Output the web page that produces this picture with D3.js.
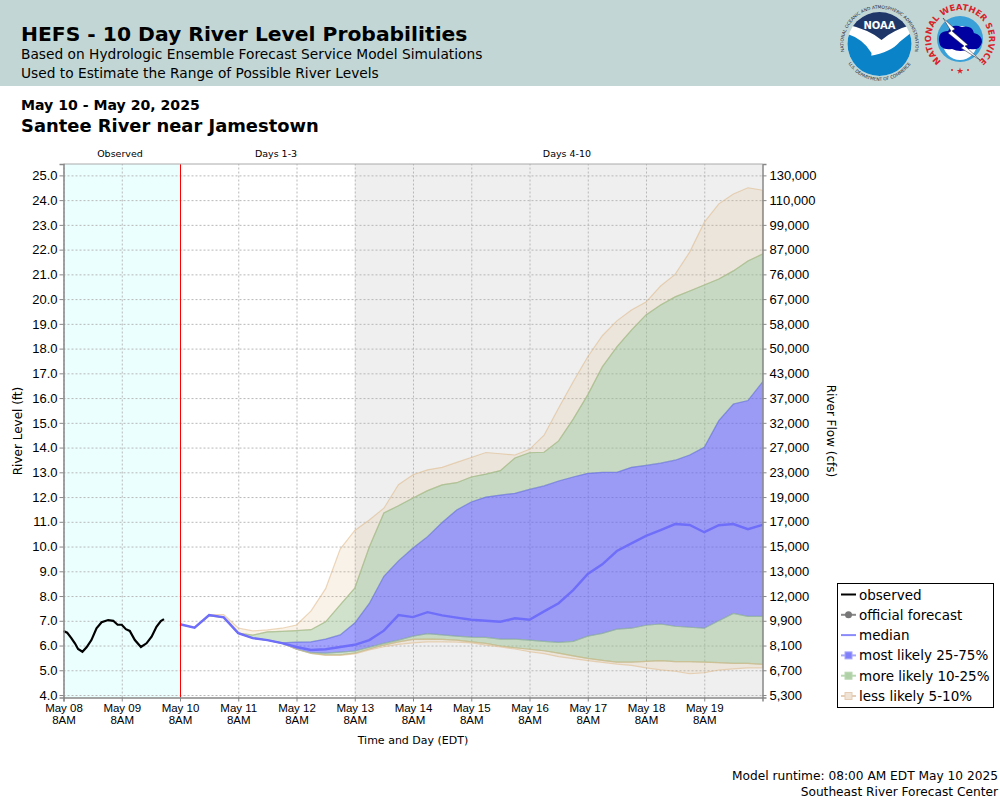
<!DOCTYPE html>
<html lang="en">
  <head>
    <meta charset="UTF-8" />
    <script src="https://d3js.org/d3.v7.min.js"></script>
    <style>
      body { margin: 0; background: #fff; }
      svg { display: block; font-family: "DejaVu Sans", sans-serif; }
      .tick text { fill: #000; font-size: 13px; }
      .tick line, .domain { stroke: #888; }
      .grid line { stroke: #b8b8b8; stroke-dasharray: 2,2; }
      .grid .domain { display: none; }
    </style>
    <title>HEFS - 10 Day River Level Probabilities</title>
  </head>
  <body>
    <svg id="chart" width="1000" height="800"></svg>
    <script>
      // values, river level in ft, one per 6 hours from May 10 8AM
      const tanTop = [6.85, 6.72, 7.25, 7.25, 6.71, 6.59, 6.63, 6.7, 6.83, 7.4, 8.3, 9.9, 10.65, 11.07, 11.55, 12.5, 12.9, 13.1, 13.2, 13.4, 13.6, 13.8, 13.75, 13.7, 13.93, 14.5, 15.6, 16.66, 17.67, 18.52, 19.12, 19.56, 19.88, 20.53, 21.0, 21.9, 23.1, 23.85, 24.25, 24.5, 24.4];
      const greenTop = [6.85, 6.72, 7.22, 7.15, 6.5, 6.42, 6.55, 6.57, 6.6, 6.64, 6.96, 7.64, 8.32, 9.98, 11.36, 11.65, 11.96, 12.26, 12.49, 12.58, 12.81, 12.93, 13.07, 13.58, 13.79, 13.81, 14.27, 15.15, 16.13, 17.26, 18.07, 18.75, 19.36, 19.76, 20.09, 20.33, 20.57, 20.81, 21.14, 21.54, 21.82];
      const blueTop = [6.85, 6.72, 7.22, 7.15, 6.5, 6.3, 6.22, 6.11, 6.14, 6.15, 6.26, 6.43, 6.91, 7.7, 8.8, 9.42, 9.94, 10.4, 10.97, 11.48, 11.8, 12.0, 12.08, 12.15, 12.31, 12.45, 12.65, 12.81, 12.96, 13.0, 13.0, 13.2, 13.28, 13.37, 13.49, 13.7, 14.01, 15.09, 15.76, 15.9, 16.65];
      const median = [6.86, 6.72, 7.23, 7.14, 6.5, 6.3, 6.22, 6.1, 5.94, 5.82, 5.85, 5.94, 6.03, 6.22, 6.6, 7.23, 7.15, 7.35, 7.22, 7.13, 7.04, 7.0, 6.96, 7.1, 7.04, 7.38, 7.71, 8.24, 8.89, 9.28, 9.82, 10.13, 10.43, 10.66, 10.91, 10.87, 10.58, 10.86, 10.91, 10.7, 10.88];
      const blueBottom = [6.85, 6.72, 7.22, 7.14, 6.5, 6.3, 6.22, 6.09, 5.85, 5.71, 5.69, 5.73, 5.78, 5.93, 6.09, 6.22, 6.38, 6.48, 6.43, 6.38, 6.34, 6.33, 6.26, 6.26, 6.22, 6.17, 6.13, 6.17, 6.38, 6.49, 6.66, 6.7, 6.82, 6.87, 6.78, 6.74, 6.7, 7.0, 7.3, 7.18, 7.18];
      const greenBottom = [6.85, 6.72, 7.2, 7.14, 6.5, 6.3, 6.22, 6.09, 5.85, 5.68, 5.62, 5.62, 5.69, 5.86, 6.02, 6.15, 6.25, 6.26, 6.25, 6.22, 6.15, 6.09, 5.98, 5.91, 5.85, 5.79, 5.69, 5.58, 5.48, 5.4, 5.33, 5.33, 5.36, 5.39, 5.35, 5.35, 5.33, 5.31, 5.28, 5.28, 5.24];
      const tanBottom = [6.85, 6.72, 7.2, 7.14, 6.5, 6.3, 6.22, 6.09, 5.85, 5.68, 5.6, 5.6, 5.66, 5.82, 5.95, 6.05, 6.11, 6.15, 6.15, 6.14, 6.11, 6.02, 5.94, 5.86, 5.75, 5.67, 5.55, 5.47, 5.39, 5.32, 5.25, 5.2, 5.1, 5.02, 4.96, 4.86, 4.9, 5.01, 5.06, 5.1, 5.1];

      // observed gauge, hours after May 08 8AM and level
      const observedHours = [0, 1.5, 3.3, 4.7, 6, 7.8, 9.5, 11.5, 13.6, 15.7, 18.4, 20.5, 22.3, 24, 25.7, 27.3, 29.4, 31.9, 34.2, 36.3, 38.3, 40.1, 41.4];
      const observedLevel = [6.59, 6.52, 6.29, 6.09, 5.86, 5.75, 5.93, 6.22, 6.7, 6.94, 7.03, 7.0, 6.84, 6.84, 6.66, 6.59, 6.22, 5.94, 6.09, 6.36, 6.76, 6.99, 7.07];

      const levelTicks = d3.range(4, 26);
      const flowLabels = ["5,300", "6,700", "8,100", "9,900", "12,000", "13,000", "15,000", "17,000", "19,000", "23,000", "27,000", "32,000", "37,000", "43,000", "50,000", "58,000", "67,000", "76,000", "87,000", "99,000", "110,000", "130,000"];
      const dayLabels = ["May 08", "May 09", "May 10", "May 11", "May 12", "May 13", "May 14", "May 15", "May 16", "May 17", "May 18", "May 19"];

      const svg = d3.select("#chart");
      const plot = { left: 63.5, right: 762.5, top: 164, bottom: 697.5 };
      const HOUR = 3600 * 1000;
      const t0 = Date.UTC(2025, 4, 8, 8);
      const forecastStart = Date.UTC(2025, 4, 10, 8);
      const forecastTimes = median.map((d, i) => new Date(forecastStart + i * 6 * HOUR));
      const dayTicks = dayLabels.map((d, i) => new Date(t0 + i * 24 * HOUR));

      const x = d3
        .scaleUtc()
        .domain([new Date(t0), new Date(t0 + 12 * 24 * HOUR)])
        .range([plot.left, plot.right]);
      const y = d3.scaleLinear().domain([3.9, 25.46]).range([plot.bottom, plot.top]);

      // header
      svg.append("rect").attr("width", 1000).attr("height", 86).attr("fill", "#c2d7d5");
      const addText = (str, px, py, size, weight, anchor) =>
        svg
          .append("text")
          .attr("x", px)
          .attr("y", py)
          .attr("font-size", size)
          .attr("font-weight", weight || "normal")
          .attr("text-anchor", anchor || "start")
          .text(str);
      addText("HEFS - 10 Day River Level Probabilities", 21, 41, 20.3, "bold");
      addText("Based on Hydrologic Ensemble Forecast Service Model Simulations", 21, 59, 13.75);
      addText("Used to Estimate the Range of Possible River Levels", 21, 78, 13.75);
      addText("May 10 - May 20, 2025", 21, 110, 14.1, "bold");
      addText("Santee River near Jamestown", 21, 132, 17.9, "bold");

      // plot backgrounds
      const xNow = Math.round(x(new Date(forecastStart))) + 0.5;
      const xDay4 = x(new Date(forecastStart + 72 * HOUR));
      svg.append("rect").attr("x", plot.left).attr("y", plot.top).attr("width", xNow - plot.left).attr("height", plot.bottom - plot.top).attr("fill", "#ebffff");
      svg.append("rect").attr("x", xDay4).attr("y", plot.top).attr("width", plot.right - xDay4).attr("height", plot.bottom - plot.top).attr("fill", "#efefef");

      // grid
      svg
        .append("g")
        .attr("class", "grid")
        .attr("transform", `translate(0,${plot.bottom})`)
        .call(d3.axisBottom(x).tickValues(dayTicks).tickSize(plot.top - plot.bottom).tickFormat(""));
      svg
        .append("g")
        .attr("class", "grid")
        .attr("transform", `translate(${plot.left},0)`)
        .call(d3.axisLeft(y).tickValues(levelTicks).tickSize(plot.left - plot.right).tickFormat(""));

      // probability bands
      const band = (upper, lower, fill, edge) => {
        const rows = forecastTimes.map((t, i) => ({ t, hi: upper[i], lo: lower[i] }));
        const area = d3.area().x((d) => x(d.t)).y0((d) => y(d.lo)).y1((d) => y(d.hi));
        svg.append("path").datum(rows).attr("d", area).attr("fill", fill).attr("stroke", edge).attr("stroke-width", 1.2);
      };
      band(tanTop, greenTop, "rgba(222,184,135,0.18)", "rgba(222,184,135,0.55)");
      band(greenTop, blueTop, "rgba(150,190,140,0.45)", "rgba(150,190,140,0.6)");
      band(blueTop, blueBottom, "rgba(90,90,250,0.56)", "rgba(110,110,250,0.5)");
      band(blueBottom, greenBottom, "rgba(150,190,140,0.45)", "rgba(150,190,140,0.6)");
      band(greenBottom, tanBottom, "rgba(222,184,135,0.18)", "rgba(222,184,135,0.55)");

      // median and observed
      const line = d3.line().x((d) => x(d[0])).y((d) => y(d[1]));
      svg
        .append("path")
        .datum(forecastTimes.map((t, i) => [t, median[i]]))
        .attr("d", line)
        .attr("fill", "none")
        .attr("stroke", "#6e6efa")
        .attr("stroke-width", 2.4);
      svg
        .append("path")
        .datum(observedHours.map((h, i) => [new Date(t0 + h * HOUR), observedLevel[i]]))
        .attr("d", line)
        .attr("fill", "none")
        .attr("stroke", "#000")
        .attr("stroke-width", 2.2);

      // now line and frame
      svg.append("line").attr("x1", xNow).attr("x2", xNow).attr("y1", plot.top).attr("y2", plot.bottom).attr("stroke", "#f00");
      svg.append("line").attr("x1", plot.left).attr("x2", plot.right).attr("y1", plot.top).attr("y2", plot.top).attr("stroke", "#aaa");

      // axes
      const yLeft = svg
        .append("g")
        .attr("transform", `translate(${plot.left},0)`)
        .call(d3.axisLeft(y).tickValues(levelTicks).tickSize(4).tickPadding(2).tickFormat(d3.format(".1f")));
      yLeft.select(".domain").attr("stroke-width", 1.5);
      const yRight = svg
        .append("g")
        .attr("transform", `translate(${plot.right},0)`)
        .call(d3.axisRight(y).tickValues(levelTicks).tickSize(4).tickPadding(3).tickFormat((d, i) => flowLabels[i]));
      yRight.select(".domain").attr("stroke-width", 1.5);
      const xAxis = svg
        .append("g")
        .attr("transform", `translate(0,${plot.bottom})`)
        .call(d3.axisBottom(x).tickValues(dayTicks).tickSize(4).tickPadding(2).tickFormat((d, i) => dayLabels[i]));
      xAxis.select(".domain").attr("stroke-width", 1.5);
      xAxis.selectAll(".tick text").style("font-size", "11.5px");
      xAxis.selectAll(".tick").append("text").attr("y", 18).attr("dy", "0.71em").style("font-size", "11.5px").text("8AM");

      addText("Time and Day (EDT)", 413, 744, 11, "normal", "middle");
      svg.append("text").attr("transform", "translate(22,431) rotate(-90)").attr("text-anchor", "middle").attr("font-size", 12).text("River Level (ft)");
      svg.append("text").attr("transform", "translate(827,431) rotate(90)").attr("text-anchor", "middle").attr("font-size", 12).text("River Flow (cfs)");

      addText("Observed", 120, 157, 9.5, "normal", "middle");
      addText("Days 1-3", 276, 157, 9.5, "normal", "middle");
      addText("Days 4-10", 567, 157, 9.5, "normal", "middle");

      // legend
      const legendRows = [
        { label: "observed", stroke: "#000", width: 2 },
        { label: "official forecast", stroke: "#888", width: 2, dot: "#777" },
        { label: "median", stroke: "#8a8afa", width: 2 },
        { label: "most likely 25-75%", stroke: "#a8a8fa", width: 2, box: "#8080fa" },
        { label: "more likely 10-25%", stroke: "#b8d8b0", width: 2, box: "#b0d0a8" },
        { label: "less likely 5-10%", stroke: "#e4cdb4", width: 2, box: "#efe3d6" },
      ];
      svg.append("rect").attr("x", 837.5).attr("y", 583.5).attr("width", 156).attr("height", 124).attr("fill", "#fff").attr("stroke", "#000");
      const legend = svg
        .selectAll(".legendRow")
        .data(legendRows)
        .join("g")
        .attr("class", "legendRow")
        .attr("transform", (d, i) => `translate(840,${594.5 + i * 20.3})`);
      legend.append("line").attr("x1", 1).attr("x2", 16).attr("stroke", (d) => d.stroke).attr("stroke-width", (d) => d.width);
      legend.filter((d) => d.dot).append("circle").attr("cx", 8.5).attr("r", 3.5).attr("fill", (d) => d.dot);
      legend.filter((d) => d.box).append("rect").attr("x", 5).attr("y", -3.5).attr("width", 7).attr("height", 7).attr("fill", (d) => d.box).attr("stroke", (d) => d.stroke);
      legend.append("text").attr("x", 19).attr("y", 5).attr("font-size", 13.5).text((d) => d.label);

      // footer
      addText("Model runtime: 08:00 AM EDT May 10 2025", 998, 780, 12.2, "normal", "end");
      addText("Southeast River Forecast Center", 998, 796, 12.2, "normal", "end");

      // NOAA logo
      const defs = svg.append("defs");
      defs.append("clipPath").attr("id", "noaaClip").append("circle").attr("r", 32);
      defs.append("path").attr("id", "noaaRing").attr("d", "M-35,9 A36,36 0 1 1 35,9");
      defs.append("path").attr("id", "noaaRingLow").attr("d", "M-31,20 A37,37 0 0 0 31,20");
      defs.append("path").attr("id", "nwsRing").attr("d", "M-13,26 A29,29 0 1 1 13,26");
      const noaa = svg.append("g").attr("transform", "translate(879.5,44)");
      noaa.append("circle").attr("r", 32).attr("fill", "#fff");
      const noaaInner = noaa.append("g").attr("clip-path", "url(#noaaClip)");
      noaaInner.append("path").attr("d", "M-40,-40 H40 V-21 Q16,-16 2,-4 Q-12,-16 -40,-21 Z").attr("fill", "#1e3768");
      noaaInner.append("path").attr("d", "M-40,-12 Q-18,-8 -8,9 Q-8,14 -10,12 Q12,8 20,-2 Q30,-10 40,-18 V40 H-40 Z").attr("fill", "#0b83c8");
      noaa.append("text").attr("text-anchor", "middle").attr("y", -15).attr("font-size", 10).attr("font-weight", "bold").attr("fill", "#fff").text("NOAA");
      noaa.append("text").attr("font-size", 4.4).attr("fill", "#223").append("textPath").attr("href", "#noaaRing").attr("startOffset", "50%").attr("text-anchor", "middle").text("NATIONAL OCEANIC AND ATMOSPHERIC ADMINISTRATION");
      noaa.append("text").attr("font-size", 4.4).attr("fill", "#223").append("textPath").attr("href", "#noaaRingLow").attr("startOffset", "50%").attr("text-anchor", "middle").text("U.S. DEPARTMENT OF COMMERCE");

      // NWS logo
      const nws = svg.append("g").attr("transform", "translate(960,39)");
      nws.append("circle").attr("r", 23).attr("fill", "#3aa0d8");
      nws.append("circle").attr("r", 17).attr("cy", 4).attr("fill", "#fff");
      nws.append("path").attr("d", "M-21,2 Q-22,-8 -12,-8 Q-8,-16 2,-12 Q12,-14 14,-6 Q22,-4 22,3 Q20,12 10,10 Q0,14 -8,10 Q-20,12 -21,2 Z").attr("fill", "#0000a0");
      nws.append("path").attr("d", "M-17,-21 L-5,-10 L-8,-8 L8,6 L5,7 L20,21 L1,9 L4,7 L-12,-6 L-9,-8 Z").attr("fill", "#fff").attr("stroke", "#223").attr("stroke-width", 0.5);
      nws.append("text").attr("font-size", 8.5).attr("font-weight", "bold").attr("fill", "#d8232a").append("textPath").attr("href", "#nwsRing").attr("startOffset", "50%").attr("text-anchor", "middle").text("NATIONAL WEATHER SERVICE");
      nws.append("path").attr("transform", "translate(0,32)").attr("d", d3.symbol(d3.symbolStar, 14)()).attr("fill", "#d8232a");
      nws.selectAll(".nwsDot").data([-8, 8]).join("circle").attr("class", "nwsDot").attr("cx", (d) => d).attr("cy", 31).attr("r", 1).attr("fill", "#d8232a");
    </script>
  </body>
</html>
